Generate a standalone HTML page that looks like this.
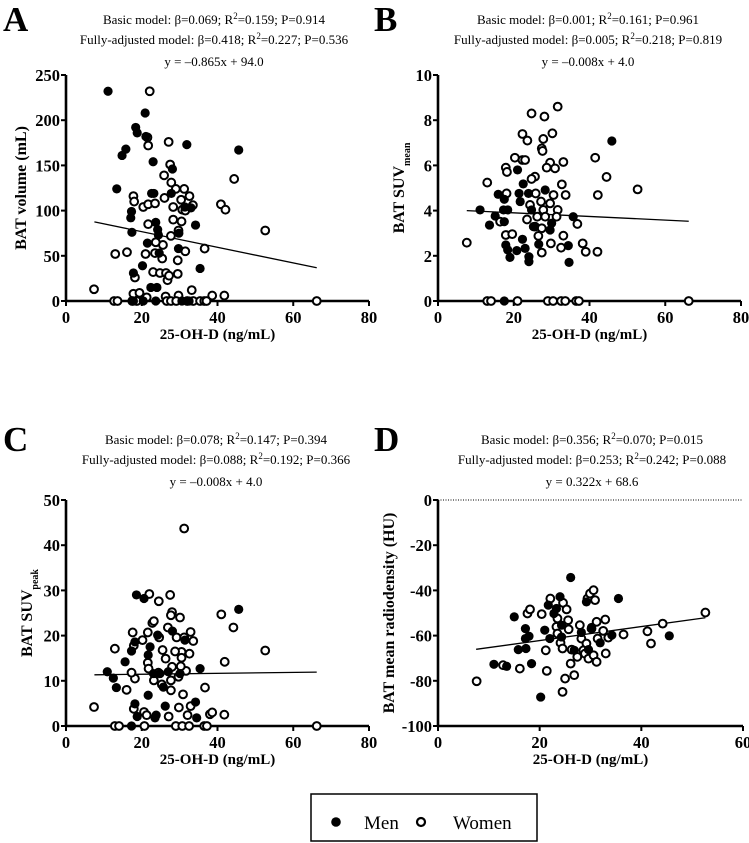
<!DOCTYPE html>
<html><head><meta charset="utf-8"><style>
html,body{margin:0;padding:0;background:#fff;}
svg{display:block;font-family:"Liberation Serif",serif;}
</style></head><body>
<svg id="fig" width="749" height="843" viewBox="0 0 749 843" xmlns="http://www.w3.org/2000/svg"></svg>
<script>
// Panel A: BAT volume
const aMenX=[11.1,20.9,18.4,18.8,21.1,15.8,14.8,31.9,45.6,23.0,28.1,13.4,22.6,23.2,27.8,17.3,17.1,17.4,23.7,34.2,24.2,24.4,21.5,29.7,35.4,20.2,17.8,22.4,24.0,24.6,29.8,31.4,33.0,17.8,20.4,23.7,30.6,32.5];
const aMenY=[232,208,192,186,182,168,161,173,167,154,146,124,119,119,119,99,92,76,87,84,79,73,64,58,36,39,31,15,15,53,75,104,103,0,0,0,0,0];
const aWomX=[7.4,12.7,13.6,13,16.1,17.8,18,20.4,21.7,23.5,26,22.1,21.7,21.5,27.1,27.5,25.9,27.8,29,31.2,32.6,33.5,30.4,28.3,30.7,31.5,28.3,30.5,21.7,27.7,29.7,29.5,31.5,36.6,40.9,42.1,44.4,52.6,21.0,23.5,23.7,25.6,25.4,23.0,24.8,26.4,26.8,27.2,29.5,18.2,17.8,19.4,33.2,38.6,41.8,26.3,29.7,21.3,66.2,17.5,18.7,26.6,27.7,29.1,32,33.6,35.4,36.5,37.1];
const aWomY=[13,0,0,52,54,116,110,104,107,108,114,232,172,181,176,151,139,131,124,124,116,106,112,104,101,100,90,88,85,72,78,45,55,58,107,101,135,78,52,53,65,62,47,32,31,31,23,28,30,26,8,9,12,6,6,5,6,4,0,0,0,0,0,0,0,0,0,0,0];
// Panel B: SUVmean
const bMenX=[11.1,13.6,15.1,15.9,17.5,17.3,18.4,17.5,21.0,22.5,21.4,21.7,23.9,28.3,45.9,24.7,25.2,30.0,29.6,35.7,17.9,18.4,19.0,20.8,22.3,23.0,24.0,24.0,26.6,34.4,34.6,17.5];
const bMenY=[4.03,3.36,3.76,4.72,4.5,4.03,4.03,3.51,5.8,5.18,4.76,4.4,4.76,4.91,7.08,4.03,3.29,3.44,3.14,3.73,2.48,2.26,1.93,2.23,2.73,2.33,1.96,1.74,2.51,2.45,1.71,0];
const bWomX=[7.6,13.0,24.7,28.1,31.6,30.2,22.3,23.6,27.8,27.4,27.6,20.3,22.3,23.0,17.9,18.2,29.6,28.7,30.9,33.1,41.5,44.5,52.7,42.2,32.7,25.6,24.7,33.7,25.8,27.2,24.3,30.5,29.6,27.8,31.6,31.3,28.3,26.2,23.5,16.4,36.8,25.6,27.4,26.5,17.9,19.6,33.1,29.8,32.5,27.4,38.2,39,42.1,18.1,13.0,14.0,21.0,29.0,30.4,32.5,33.6,36.5,37.2,66.2];
const bWomY=[2.58,5.24,8.3,8.16,8.6,7.42,7.39,7.1,7.17,6.75,6.64,6.34,6.24,6.24,5.9,5.71,6.12,5.9,5.87,6.15,6.34,5.49,4.94,4.69,5.16,5.5,5.4,4.69,4.76,4.4,4.25,4.69,4.32,4.03,4.03,3.73,3.73,3.73,3.61,3.51,3.41,3.29,3.22,2.88,2.92,2.96,2.89,2.55,2.36,2.14,2.55,2.18,2.18,4.76,0,0,0,0,0,0,0,0,0,0];
// Panel C: SUVpeak
const cMenX=[10.9,12.5,13.3,15.6,17.3,18.2,18.6,20.6,22.2,21.7,24.2,23.1,24.8,28.1,25.7,27.0,30.1,31.4,35.4,45.6,18.2,18.8,21.7,23.8,23.5,26.2,34.2,34.5,17.3];
const cMenY=[12.0,10.6,8.5,14.2,16.6,18.6,29.0,28.2,17.5,15.7,20.1,11.6,11.6,21.0,8.6,12.0,11.6,19.0,12.7,25.8,4.9,2.1,6.8,2.4,1.8,4.4,5.3,1.8,0];
const cWomX=[7.4,12.9,16.0,17.6,17.9,18.2,17.3,17.9,20.2,21.6,22,22.8,23.2,24.5,24.6,25.5,26.3,27.5,28.0,27.7,30.1,31.2,26.9,29.2,31.2,32.9,33.6,32.6,30.5,30.5,28.8,41,44.2,41.9,52.6,31.7,30.3,28,29.7,27.7,24.4,21.6,21.8,23.2,25.3,27.7,30.9,36.7,29.8,27.1,32.9,32.1,38.0,38.6,41.8,20.6,21.3,12.9,14.0,20.7,29.0,30.7,32.5,36.5,37.2,66.2];
const cWomY=[4.2,17.1,8.0,20.7,17.8,10.5,11.8,3.8,19.0,20.7,29.2,22.8,23.2,27.6,19.6,16.8,14.9,29.0,25.2,24.5,24.0,43.7,21.8,19.6,19.6,20.8,18.8,16.0,16.4,15.1,16.5,24.7,21.8,14.2,16.7,12.2,13.2,13.1,10.9,10.1,11.8,14.0,12.7,10.1,9.2,7.9,7.0,8.5,4.1,2.1,4.4,2.4,2.6,3.0,2.5,3.1,2.4,0,0,0,0,0,0,0,0,0];
// Panel D: radiodensity
const dMenX=[15.0,15.8,17.3,17.2,17.2,17.9,18.4,11.0,13.5,20.2,21.0,21.7,22.0,22.8,23.3,24.0,24.3,24.3,26.1,26.8,28.2,29.2,29.6,30.2,31.9,34.2,35.5,45.5];
const dMenY=[-51.7,-66.2,-65.7,-56.9,-61.3,-60.3,-72.4,-72.7,-73.6,-87.2,-57.6,-46.5,-61.3,-50.2,-48.0,-42.8,-55.4,-60.6,-34.3,-66.5,-58.6,-45.1,-66.2,-56.4,-63.2,-59.8,-43.6,-60.1];
const dWomX=[7.6,16.1,12.8,17.6,18.1,20.4,21.2,21.4,22.1,23.3,24.1,24.5,24.6,24.5,25,25.3,25.6,25.7,26.3,26.1,26.8,27.4,27.9,28.2,28.6,28.9,29.2,29.6,29.4,29.9,30.6,30.9,30.2,30.6,31.2,31.2,31.4,32.9,32.5,33,33.5,36.5,41.2,41.9,44.2,52.6,23.5,23.5];
const dWomY=[-80.2,-74.6,-73.1,-50.2,-48.4,-50.5,-66.5,-75.6,-43.6,-56.1,-63.2,-65.7,-45.5,-84.9,-79.0,-48.4,-53.2,-57.2,-66.2,-72.4,-77.5,-69.4,-55.4,-61.3,-66.5,-68.0,-63.5,-70.2,-43.6,-41.4,-39.9,-44.3,-56.9,-68.7,-71.6,-53.9,-61.3,-52.9,-57.9,-67.9,-60.9,-59.5,-58.1,-63.5,-54.7,-49.8,-52.4,-59.1];
// Regression lines [slope, intercept, xStart, xEnd]
const aFit=[-0.865,94.0,7.5,66.2];
const bFit=[-0.008,4.06,7.6,66.2];
const cFit=[0.01,11.25,7.5,66.2];
const dFit=[0.31,-68.4,7.5,52.6];
const xTicks80=[0,20,40,60,80];
const xTicks60=[0,20,40,60];
const aYTicks=[0,50,100,150,200,250];
const bYTicks=[0,2,4,6,8,10];
const cYTicks=[0,10,20,30,40,50];
const dYTicks=[-100,-80,-60,-40,-20,0];

const NS="http://www.w3.org/2000/svg";
const svg=document.getElementById('fig');
function mk(tag,attrs,parent){const e=document.createElementNS(NS,tag);for(const k in attrs)e.setAttribute(k,attrs[k]);(parent||svg).appendChild(e);return e;}
function txt(s,x,y,size,weight,anchor,parent){const t=mk('text',{x:x,y:y,'font-size':size,'font-weight':weight,'text-anchor':anchor,fill:'#000'},parent);t.textContent=s;return t;}

function panel(cfg){
  const g=mk('g',{});
  
  
  const sx=v=>cfg.x0+(v-cfg.xmin)/(cfg.xmax-cfg.xmin)*(cfg.x1-cfg.x0);
  const sy=v=>cfg.y0-(v-cfg.ymin)/(cfg.ymax-cfg.ymin)*(cfg.y0-cfg.y1);
  const L=txt(cfg.letter,cfg.lx,cfg.ly,35,'bold','start',g);
  
  const h1=mk('text',{x:cfg.cx,y:cfg.hy,'font-size':13,'text-anchor':'middle'},g);
  
  h1.innerHTML=cfg.h1;
  const h2=mk('text',{x:cfg.cx,y:cfg.hy+20,'font-size':13,'text-anchor':'middle'},g);
  
  h2.innerHTML=cfg.h2;
  const h3=txt(cfg.eq,cfg.cx,cfg.hy+42,13,'normal','middle',g);
  
  if(cfg.dotted){const d=mk('line',{x1:cfg.x0,y1:sy(0),x2:cfg.x1,y2:sy(0),stroke:'#000','stroke-width':1,'stroke-dasharray':'1,1.5'},g);}
  const ax=mk('line',{x1:cfg.x0,y1:cfg.y0,x2:cfg.x1,y2:cfg.y0,stroke:'#000','stroke-width':2.6},g);
  
  const ay=mk('line',{x1:cfg.x0,y1:cfg.y0+1,x2:cfg.x0,y2:cfg.y1,stroke:'#000','stroke-width':2.6},g);
  
  cfg.xt.forEach(v=>{
    const t=mk('line',{x1:sx(v),y1:cfg.y0,x2:sx(v),y2:cfg.y0+5,stroke:'#000','stroke-width':2},g);
    
    const l=txt(String(v),sx(v),cfg.y0+22,16.5,'bold','middle',g);
    
  });
  cfg.yt.forEach(v=>{
    const t=mk('line',{x1:cfg.x0-5,y1:sy(v),x2:cfg.x0,y2:sy(v),stroke:'#000','stroke-width':2},g);
    
    const l=txt(String(v),cfg.x0-6,sy(v)+6,16.5,'bold','end',g);
    
  });
  const xl=txt('25-OH-D (ng/mL)',(cfg.x0+cfg.x1)/2,cfg.y0+38,15,'bold','middle',g);
  
  const yl=mk('text',{x:0,y:0,'font-size':16,'font-weight':'bold','text-anchor':'middle',transform:'translate('+cfg.ylx+','+((cfg.y0+cfg.y1)/2)+') rotate(-90)'},g);
  
  yl.innerHTML=cfg.ylab;
  const f=cfg.fit;
  const fl=mk('line',{x1:sx(f[2]),y1:sy(f[0]*f[2]+f[1]),x2:sx(f[3]),y2:sy(f[0]*f[3]+f[1]),stroke:'#000','stroke-width':1.3},g);
  
  cfg.wx.forEach((v,i)=>{
    const c=mk('circle',{cx:sx(v),cy:sy(cfg.wy[i]),r:3.9,fill:'#fff',stroke:'#000','stroke-width':2},g);
    
  });
  cfg.mx.forEach((v,i)=>{
    const c=mk('circle',{cx:sx(v),cy:sy(cfg.my[i]),r:4.6,fill:'#000'},g);
    
  });
}
const sup2='R<tspan baseline-shift="super" font-size="9">2</tspan>';
panel({name:'panel-a',letter:'A',lx:3,ly:31,cx:214,hy:24,x0:66,x1:369,xmin:0,xmax:80,y0:301,y1:75,ymin:0,ymax:250,xt:xTicks80,yt:aYTicks,ylx:26,
  h1:'Basic model: β=0.069; '+sup2+'=0.159; P=0.914',h2:'Fully-adjusted model: β=0.418; '+sup2+'=0.227; P=0.536',eq:'y = –0.865x + 94.0',
  ylab:'BAT volume (mL)',fit:aFit,mx:aMenX,my:aMenY,wx:aWomX,wy:aWomY});
panel({name:'panel-b',letter:'B',lx:374,ly:31,cx:588,hy:24,x0:438,x1:741,xmin:0,xmax:80,y0:301,y1:75,ymin:0,ymax:10,xt:xTicks80,yt:bYTicks,ylx:404,
  h1:'Basic model: β=0.001; '+sup2+'=0.161; P=0.961',h2:'Fully-adjusted model: β=0.005; '+sup2+'=0.218; P=0.819',eq:'y = –0.008x + 4.0',
  ylab:'BAT SUV<tspan baseline-shift="sub" font-size="10">mean</tspan>',fit:bFit,mx:bMenX,my:bMenY,wx:bWomX,wy:bWomY});
panel({name:'panel-c',letter:'C',lx:3,ly:451,cx:216,hy:444,x0:66,x1:369,xmin:0,xmax:80,y0:726,y1:500,ymin:0,ymax:50,xt:xTicks80,yt:cYTicks,ylx:32,
  h1:'Basic model: β=0.078; '+sup2+'=0.147; P=0.394',h2:'Fully-adjusted model: β=0.088; '+sup2+'=0.192; P=0.366',eq:'y = –0.008x + 4.0',
  ylab:'BAT SUV<tspan baseline-shift="sub" font-size="10">peak</tspan>',fit:cFit,mx:cMenX,my:cMenY,wx:cWomX,wy:cWomY});
panel({name:'panel-d',letter:'D',lx:374,ly:451,cx:592,hy:444,x0:438,x1:743,xmin:0,xmax:60,y0:726,y1:500,ymin:-100,ymax:0,xt:xTicks60,yt:dYTicks,ylx:394,dotted:true,
  h1:'Basic model: β=0.356; '+sup2+'=0.070; P=0.015',h2:'Fully-adjusted model: β=0.253; '+sup2+'=0.242; P=0.088',eq:'y = 0.322x + 68.6',
  ylab:'BAT mean radiodensity (HU)',fit:dFit,mx:dMenX,my:dMenY,wx:dWomX,wy:dWomY});
const lg=mk('g',{});


mk('rect',{x:311,y:794,width:226,height:47,fill:'#fff',stroke:'#000','stroke-width':1.5},lg);
const lm=mk('circle',{cx:336,cy:822,r:4.8,fill:'#000'},lg);

const lmt=txt('Men',364,829,19,'normal','start',lg);

const lw=mk('circle',{cx:421,cy:822,r:4,fill:'#fff',stroke:'#000','stroke-width':2.2},lg);

const lwt=txt('Women',453,829,19,'normal','start',lg);

</script>
</body></html>
